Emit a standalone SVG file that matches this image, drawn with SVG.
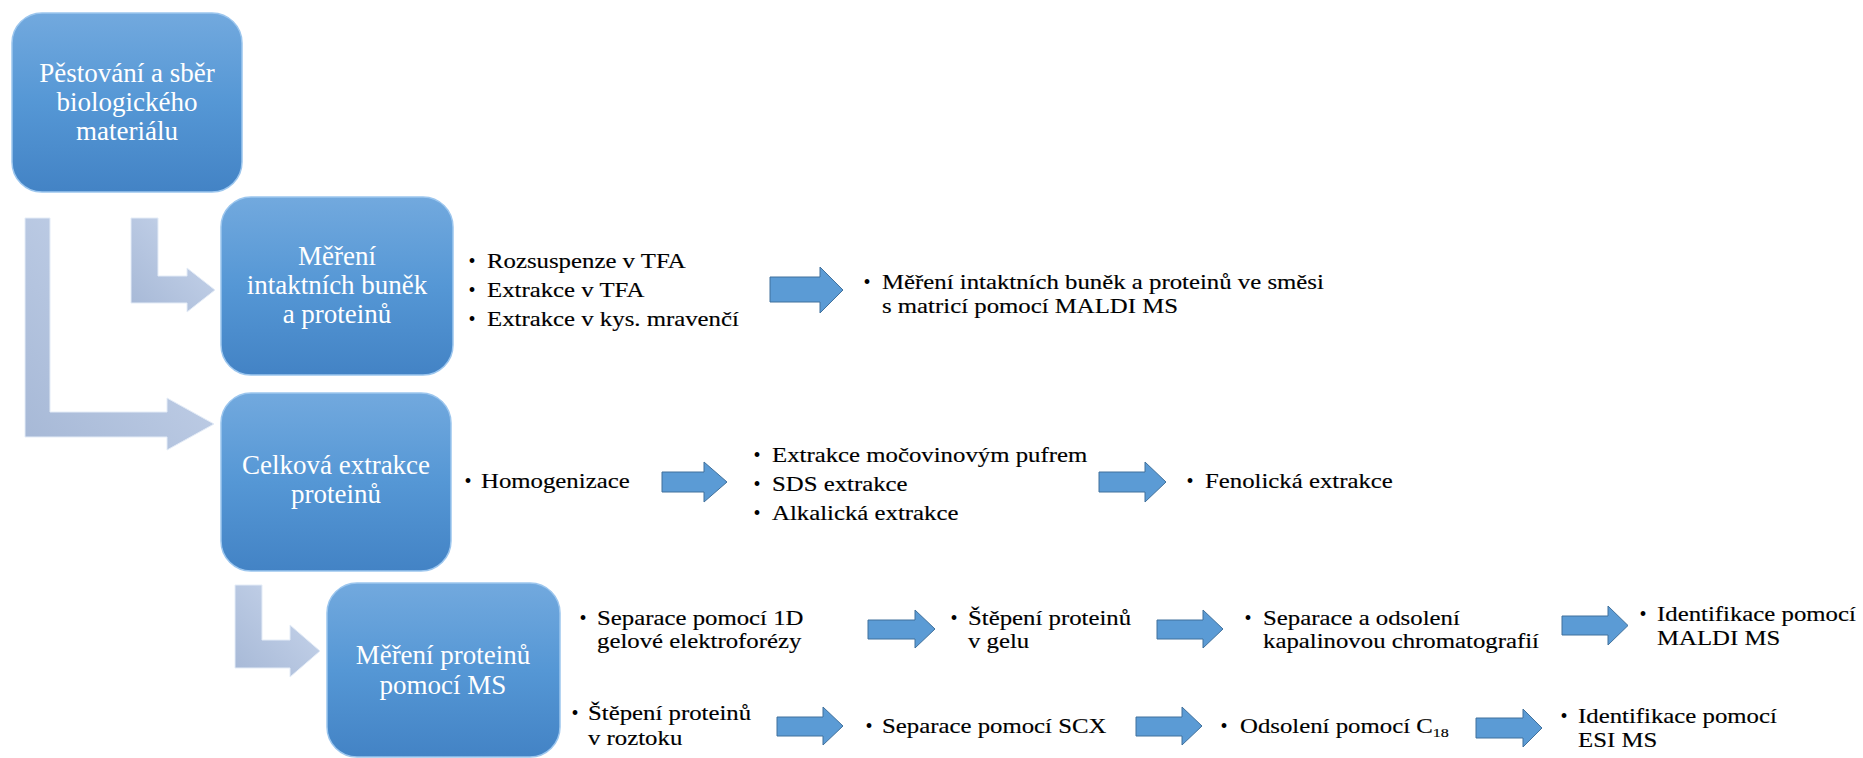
<svg xmlns="http://www.w3.org/2000/svg" width="1863" height="758" viewBox="0 0 1863 758">
<defs>
<linearGradient id="boxG" x1="0" y1="0" x2="0" y2="1">
<stop offset="0" stop-color="#72a9de"/>
<stop offset="0.5" stop-color="#5597d5"/>
<stop offset="1" stop-color="#4383c5"/>
</linearGradient>
<linearGradient id="bentG" x1="0" y1="1" x2="1" y2="0">
<stop offset="0" stop-color="#a6b8d6"/>
<stop offset="0.6" stop-color="#bccbe4"/>
<stop offset="1" stop-color="#d6e2f2"/>
</linearGradient>
<style>
.box{fill:url(#boxG);stroke:#9cc6ee;stroke-width:1.5}
.bt{font-family:"Liberation Serif","Times New Roman",serif;font-size:27px;fill:#ffffff;text-anchor:middle}
.t{font-family:"Liberation Serif","Times New Roman",serif;font-size:20px;fill:#000000;stroke:#000000;stroke-width:0.15}
.bul{font-family:"Liberation Serif","Times New Roman",serif;font-size:20px;fill:#000000;text-anchor:middle}
.bent{fill:url(#bentG);stroke:#e4ecf7;stroke-width:1}
.arr{fill:#5b9bd5;stroke:#41719c;stroke-width:1}
</style>
</defs>
<rect width="1863" height="758" fill="#ffffff"/>

<g id="connectors">
<path class="bent" d="M25,218 H50 V412 H167 V398 L214,424 L167,450 V437 H25 Z"/>
<path class="bent" d="M131,218 H158 V276 H187 V268 L215,290 L187,312 V303 H131 Z"/>
<path class="bent" d="M235,585 H262 V640 H290 V625 L320,651 L290,677 V668 H235 Z"/>
<path class="arr" d="M770,277 H820 V267 L843,290 L820,313 V302 H770 Z"/>
<path class="arr" d="M662,472 H704 V462 L727,482 L704,502 V492 H662 Z"/>
<path class="arr" d="M1099,472 H1145 V462 L1166,482 L1145,502 V492 H1099 Z"/>
<path class="arr" d="M868,620 H915 V610 L935,629 L915,648 V639 H868 Z"/>
<path class="arr" d="M1157,620 H1203 V610 L1223,629 L1203,648 V639 H1157 Z"/>
<path class="arr" d="M1562,616 H1608 V606 L1628,625.5 L1608,645 V635 H1562 Z"/>
<path class="arr" d="M777,717 H823 V707 L843,726 L823,745 V736 H777 Z"/>
<path class="arr" d="M1136,717 H1182 V707 L1202,726 L1182,745 V736 H1136 Z"/>
<path class="arr" d="M1476,718 H1523 V709 L1542,728 L1523,747 V738 H1476 Z"/>
</g>

<g id="node-pestovani">
<rect class="box" x="12" y="13" width="230" height="179" rx="30"/>
<text class="bt" x="127" y="82">Pěstování a sběr</text>
<text class="bt" x="127" y="111">biologického</text>
<text class="bt" x="127" y="140">materiálu</text>
</g>

<g id="node-mereni-bunek">
<rect class="box" x="221" y="197" width="232" height="178" rx="30"/>
<text class="bt" x="337" y="265">Měření</text>
<text class="bt" x="337" y="294">intaktních buněk</text>
<text class="bt" x="337" y="323">a proteinů</text>
</g>

<g id="node-celkova">
<rect class="box" x="221" y="393" width="230" height="178" rx="30"/>
<text class="bt" x="336" y="474">Celková extrakce</text>
<text class="bt" x="336" y="503">proteinů</text>
</g>

<g id="node-mereni-ms">
<rect class="box" x="327" y="583" width="233" height="174" rx="30"/>
<text class="bt" x="443" y="664">Měření proteinů</text>
<text class="bt" x="443" y="694">pomocí MS</text>
</g>

<g id="node-tfa">
<text class="bul" x="472" y="268">•</text>
<text class="t" transform="translate(487,268) scale(1.24,1)">Rozsuspenze v TFA</text>
<text class="bul" x="472" y="297">•</text>
<text class="t" transform="translate(487,297) scale(1.24,1)">Extrakce v TFA</text>
<text class="bul" x="472" y="326">•</text>
<text class="t" transform="translate(487,326) scale(1.24,1)">Extrakce v kys. mravenčí</text>
</g>

<g id="node-maldi-intakt">
<text class="bul" x="867" y="289">•</text>
<text class="t" transform="translate(882,289) scale(1.24,1)">Měření intaktních buněk a proteinů ve směsi</text>
<text class="t" transform="translate(882,313) scale(1.24,1)">s matricí pomocí MALDI MS</text>
</g>

<g id="node-homogenizace">
<text class="bul" x="468" y="488">•</text>
<text class="t" transform="translate(481,488) scale(1.24,1)">Homogenizace</text>
</g>

<g id="node-extrakce">
<text class="bul" x="757" y="462">•</text>
<text class="t" transform="translate(772,462) scale(1.24,1)">Extrakce močovinovým pufrem</text>
<text class="bul" x="757" y="491">•</text>
<text class="t" transform="translate(772,491) scale(1.24,1)">SDS extrakce</text>
<text class="bul" x="757" y="520">•</text>
<text class="t" transform="translate(772,520) scale(1.24,1)">Alkalická extrakce</text>
</g>

<g id="node-fenolicka">
<text class="bul" x="1190" y="488">•</text>
<text class="t" transform="translate(1205,488) scale(1.24,1)">Fenolická extrakce</text>
</g>

<g id="node-1d">
<text class="bul" x="583" y="625">•</text>
<text class="t" transform="translate(597,625) scale(1.24,1)">Separace pomocí 1D</text>
<text class="t" transform="translate(597,648) scale(1.24,1)">gelové elektroforézy</text>
</g>

<g id="node-stepeni-gel">
<text class="bul" x="954" y="625">•</text>
<text class="t" transform="translate(968,625) scale(1.24,1)">Štěpení proteinů</text>
<text class="t" transform="translate(968,648) scale(1.24,1)">v gelu</text>
</g>

<g id="node-lc">
<text class="bul" x="1248" y="625">•</text>
<text class="t" transform="translate(1263,625) scale(1.24,1)">Separace a odsolení</text>
<text class="t" transform="translate(1263,648) scale(1.24,1)">kapalinovou chromatografií</text>
</g>

<g id="node-id-maldi">
<text class="bul" x="1643" y="621">•</text>
<text class="t" transform="translate(1657,621) scale(1.24,1)">Identifikace pomocí</text>
<text class="t" transform="translate(1657,645) scale(1.24,1)">MALDI MS</text>
</g>

<g id="node-stepeni-roztok">
<text class="bul" x="575" y="720">•</text>
<text class="t" transform="translate(588,720) scale(1.24,1)">Štěpení proteinů</text>
<text class="t" transform="translate(588,745) scale(1.24,1)">v roztoku</text>
</g>

<g id="node-scx">
<text class="bul" x="869" y="733">•</text>
<text class="t" transform="translate(882,733) scale(1.24,1)">Separace pomocí SCX</text>
</g>

<g id="node-c18">
<text class="bul" x="1224" y="733">•</text>
<text class="t" transform="translate(1240,733) scale(1.24,1)">Odsolení pomocí C<tspan font-size="13" dy="4">18</tspan></text>
</g>

<g id="node-id-esi">
<text class="bul" x="1564" y="723">•</text>
<text class="t" transform="translate(1578,723) scale(1.24,1)">Identifikace pomocí</text>
<text class="t" transform="translate(1578,747) scale(1.24,1)">ESI MS</text>
</g>
</svg>
